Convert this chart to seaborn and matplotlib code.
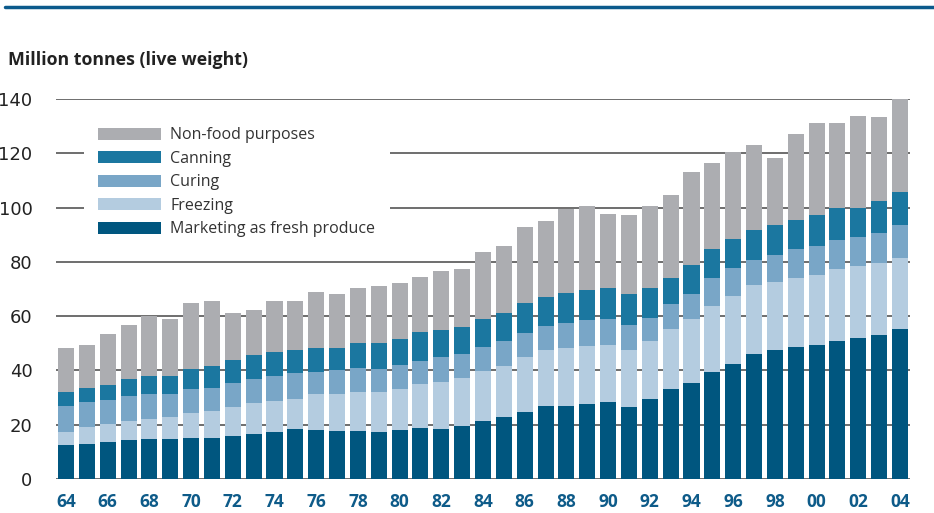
import numpy as np
import pandas as pd
import matplotlib
matplotlib.use("Agg")
import matplotlib.pyplot as plt
from matplotlib.patches import Patch
from matplotlib.lines import Line2D
import seaborn as sns

years = ["64","65","66","67","68","69","70","71","72","73","74","75","76","77","78","79",
         "80","81","82","83","84","85","86","87","88","89","90","91","92","93","94","95",
         "96","97","98","99","00","01","02","03","04"]

fresh = [12.5,12.8,13.6,14.3,14.7,14.7,15.0,15.0,15.8,16.5,17.2,18.3,18.0,17.6,17.6,17.3,
         18.0,18.8,18.4,19.5,21.3,22.8,24.6,26.8,26.8,27.6,28.2,26.7,29.3,33.3,35.5,39.6,
         42.5,46.2,47.7,48.8,49.5,51.0,52.1,53.2,55.1]
freezing = [4.7,6.3,6.6,7.0,7.3,8.0,9.2,9.9,10.6,11.4,11.4,11.0,13.5,13.9,14.4,14.7,
            15.1,16.1,17.3,17.6,18.4,18.7,20.3,20.6,21.4,21.3,21.3,21.0,21.7,22.1,23.6,24.3,
            25.1,25.1,24.7,25.4,25.5,26.2,26.2,26.2,26.5]
curing = [9.6,9.1,8.8,9.1,9.2,8.8,8.8,8.8,8.8,9.1,9.2,9.6,8.1,8.5,8.8,8.4,
          8.8,8.5,9.2,8.9,8.8,9.2,8.8,8.9,9.2,9.6,9.6,9.2,8.5,8.9,8.9,10.0,
          10.0,9.2,10.3,10.4,11.0,11.0,10.7,11.1,11.8]
canning = [5.1,5.5,5.8,6.3,6.6,6.6,7.7,8.1,8.8,8.8,9.1,8.8,8.8,8.4,9.2,9.6,
           9.6,10.6,9.9,9.9,10.3,10.3,11.0,10.6,11.0,11.0,11.1,11.4,10.7,9.9,10.7,10.7,
           11.0,11.1,10.7,11.0,11.1,11.5,11.0,12.1,12.2]
nonfood = [16.5,15.8,18.8,20.2,22.2,21.0,24.3,23.6,17.3,16.3,18.5,17.7,20.4,19.6,20.2,21.0,
           20.6,20.6,22.0,21.3,24.7,25.0,28.3,28.0,30.9,31.2,27.6,28.8,30.2,30.3,34.3,32.0,
           31.7,31.3,24.7,31.4,33.9,31.3,33.6,30.6,34.6]

series_names = ["Marketing as fresh produce", "Freezing", "Curing", "Canning", "Non-food purposes"]
series_vals = [fresh, freezing, curing, canning, nonfood]
colors = ["#00567F", "#B4CCE0", "#79A6C7", "#1B77A0", "#ACADB1"]

yticks = [0, 20, 40, 60, 80, 100, 120, 140]

df = pd.DataFrame({"year": years})
cum = np.cumsum(np.array(series_vals), axis=0)

sns.set_style("white")
plt.rcParams["font.family"] = ["Open Sans", "DejaVu Sans"]

fig = plt.figure(figsize=(9.34, 5.13), dpi=100)
ax = fig.add_axes([56/934, 1 - 479/513, 854/934, 380/513])

# draw from the top of the stack down so each layer overlaps the previous
for i in range(len(series_names) - 1, -1, -1):
    d = df.copy()
    d["val"] = cum[i]
    sns.barplot(data=d, x="year", y="val", color=colors[i], saturation=1,
                width=0.77, ax=ax, zorder=2, linewidth=0, errorbar=None)

ax.set_xlim(-0.48, len(years) - 1 + 0.48)
ax.set_ylim(0, 140)
ax.set_yticks(yticks)
ax.set_yticklabels([str(v) for v in yticks], fontsize=13, color="#222222",
                   family=["Liberation Sans Narrow", "DejaVu Sans"])
ax.set_xticks(range(0, len(years), 2))
ax.set_xticklabels(years[::2], fontsize=12.5, fontweight="bold", color="#0E5B89")
ax.tick_params(axis="both", length=0)
ax.tick_params(axis="y", pad=17)
ax.tick_params(axis="x", pad=10)
ax.set_xlabel("")
ax.set_ylabel("")
for s in ax.spines.values():
    s.set_visible(False)
ax.yaxis.grid(True, color="#555555", linewidth=1.2, zorder=0)
ax.xaxis.grid(False)
ax.set_axisbelow(True)

handles = [Patch(facecolor=colors[i], edgecolor="none") for i in range(len(series_names) - 1, -1, -1)]
labels = [series_names[i] for i in range(len(series_names) - 1, -1, -1)]
leg = ax.legend(handles, labels, loc="upper left", bbox_to_anchor=(84/934, 1 - 113/513),
                bbox_transform=fig.transFigure, frameon=True, facecolor="white",
                edgecolor="none", framealpha=1, fontsize=11.5, handlelength=3.9,
                handleheight=0.75, labelspacing=0.47, handletextpad=0.6, borderpad=0.9,
                borderaxespad=0, fancybox=False)
for t in leg.get_texts():
    t.set_color("#333333")
leg.set_zorder(5)

fig.text(8/934, 1 - 60/513, "Million tonnes (live weight)", fontsize=12.8,
         fontweight="bold", color="#222222", va="center", ha="left")
fig.add_artist(Line2D([5/934, 1.0], [1 - 7/513, 1 - 7/513], color="#0B5A8C",
                      linewidth=2.5, transform=fig.transFigure))

fig.savefig("out.png", dpi=100)
